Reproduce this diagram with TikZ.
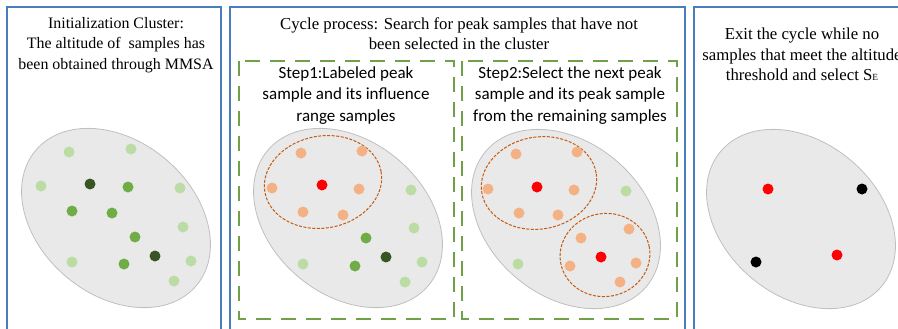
\documentclass[tikz,border=0pt]{standalone}
\usepackage{fontspec}
\setmainfont{Liberation Serif}
\newfontfamily\stepfont{Carlito}
\usetikzlibrary{shapes.geometric}
\definecolor{pblue}{RGB}{74,126,187}
\definecolor{sgreen}{RGB}{112,160,72}
\definecolor{lgreen}{RGB}{187,221,165}
\definecolor{mgreen}{RGB}{112,173,71}
\definecolor{dgreen}{RGB}{55,86,35}
\definecolor{lorange}{RGB}{244,177,131}
\definecolor{dorange}{RGB}{197,90,17}
\definecolor{cgray}{RGB}{233,233,233}
\newcommand{\px}{0.03cm}
\tikzset{
  pn/.style={draw=pblue, line width=2*\px},
  sb/.style={draw=sgreen, line width=1.5*\px, dash pattern=on 15*\px off 10*\px},
  cl/.style={ellipse, draw=black!25, fill=cgray, line width=0.8*\px, minimum width=210*\px, minimum height=154*\px, inner sep=0, rotate=-40},
  rg/.style={ellipse, draw=dorange, line width=1*\px, dash pattern=on 3*\px off 1.5*\px, inner sep=0},
  dot/.style={circle, inner sep=0, minimum size=11*\px},
  lg/.style={dot, fill=lgreen},
  mg/.style={dot, fill=mgreen},
  dg/.style={dot, fill=dgreen},
  og/.style={dot, fill=lorange},
  rd/.style={dot, fill=red},
  bk/.style={dot, fill=black},
  tt/.style={align=center, inner sep=0, anchor=north, font=\fontsize{14.3}{17.5}\selectfont},
  st/.style={align=center, inner sep=0, anchor=north, font=\stepfont\fontsize{14.5}{18.5}\selectfont}
}
\begin{document}
\begin{tikzpicture}[x=0.03cm, y=-0.03cm]
	\useasboundingbox (0,0) rectangle (898,328);
	\clip (0,0) rectangle (898,328);
	% panels
	\draw[pn] (7,7) rectangle (221,340);
	\draw[pn] (230,7) rectangle (685,340);
	\draw[pn] (694,7) rectangle (915,340);
	\draw[sb] (239,61) rectangle (454,319);
	\draw[sb] (462,61) rectangle (677,319);
	%
	\node[tt, font=\fontsize{13.6}{17.5}\selectfont] (initT) at (116,17) {Initialization Cluster:\\The altitude of\ \ samples has\\been obtained through MMSA};
	\node[tt] (cycT) at (459,17) {Cycle process: Search for peak samples that have not\\been selected in the cluster};
	\node[st] (stepA) at (346,66) {Step1:Labeled peak\\sample and its influence\\range samples};
	\node[st] (stepB) at (570,66) {Step2:Select the next peak\\sample and its peak sample\\from the remaining samples};
	\node[tt] (exitT) at (802,28) {Exit the cycle while no\\samples that meet the altitude\\threshold and select S{\footnotesize E}};
	% clusters
	\node[cl] (clA) at (116,218) {};
	\node[cl] (clB) at (348,218) {};
	\node[cl] (clC) at (566,219) {};
	\node[cl] (clD) at (801,219) {};
	\node[rg, minimum width=118*\px, minimum height=92*\px, rotate=10] (rgB) at (323,182) {};
	\node[rg, minimum width=116*\px, minimum height=92*\px, rotate=10] (rgC) at (539,183) {};
	\node[rg, minimum width=90*\px, minimum height=83*\px, rotate=10] (rgD) at (605,255) {};
	% samples, initial cluster
	\node[lg] (a1) at (69,152) {};
	\node[lg] (a2) at (131,149) {};
	\node[lg] (a3) at (41,186) {};
	\node[dg] (a4) at (90,184) {};
	\node[mg] (a5) at (128,187) {};
	\node[lg] (a6) at (180,188) {};
	\node[mg] (a7) at (72,211) {};
	\node[mg] (a8) at (112,213) {};
	\node[lg] (a9) at (183,227) {};
	\node[mg] (a10) at (135,237) {};
	\node[dg] (a11) at (155,256) {};
	\node[lg] (a12) at (72,262) {};
	\node[mg] (a13) at (124,264) {};
	\node[lg] (a14) at (191,261) {};
	\node[lg] (a15) at (174,281) {};
	% step 1
	\node[og] (b1) at (301,153) {};
	\node[og] (b2) at (362,151) {};
	\node[og] (b3) at (272,188) {};
	\node[rd] (b4) at (322,185) {};
	\node[og] (b5) at (359,189) {};
	\node[lg] (b6) at (411,190) {};
	\node[og] (b7) at (303,212) {};
	\node[og] (b8) at (343,215) {};
	\node[lg] (b9) at (414,228) {};
	\node[mg] (b10) at (366,238) {};
	\node[dg] (b11) at (386,257) {};
	\node[lg] (b12) at (303,264) {};
	\node[mg] (b13) at (355,266) {};
	\node[lg] (b14) at (422,262) {};
	\node[lg] (b15) at (405,282) {};
	% step 2
	\node[og] (c1) at (516,154) {};
	\node[og] (c2) at (577,152) {};
	\node[og] (c3) at (488,189) {};
	\node[rd] (c4) at (537,187) {};
	\node[og] (c5) at (574,190) {};
	\node[lg] (c6) at (626,191) {};
	\node[og] (c7) at (519,213) {};
	\node[og] (c8) at (558,215) {};
	\node[og] (c9) at (629,229) {};
	\node[og] (c10) at (581,238) {};
	\node[rd] (c11) at (601,257) {};
	\node[lg] (c12) at (518,264) {};
	\node[og] (c13) at (570,266) {};
	\node[og] (c14) at (636,263) {};
	\node[og] (c15) at (620,282) {};
	% exit
	\node[rd] (d1) at (768,189) {};
	\node[bk] (d2) at (862,189) {};
	\node[bk] (d3) at (756,262) {};
	\node[rd] (d4) at (837,255) {};
\end{tikzpicture}
\end{document}
